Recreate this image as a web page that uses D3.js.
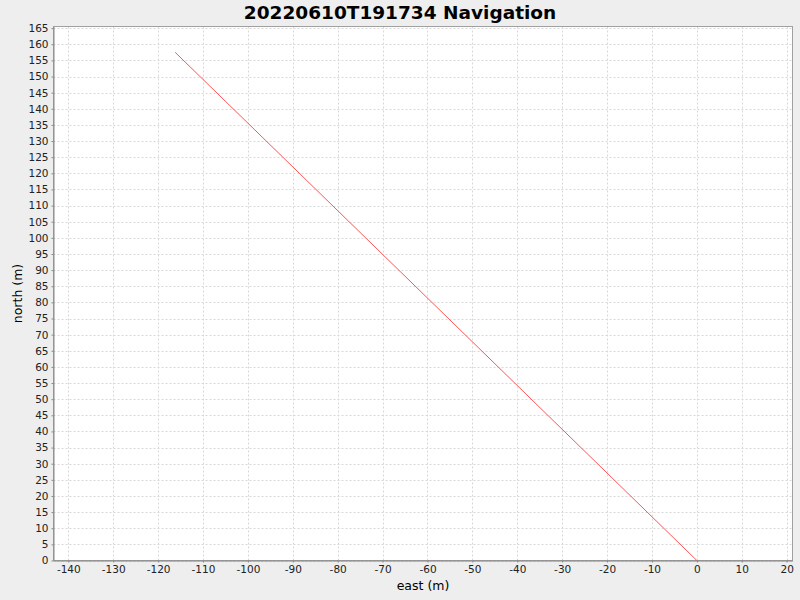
<!DOCTYPE html>
<html><head><meta charset="utf-8">
<script src="https://cdn.jsdelivr.net/npm/d3@7"></script>
<style>body{margin:0;background:#eeeeee;} svg{display:block;}</style>
</head><body>
<svg id="c" width="800" height="600"></svg>
<script>
const titleText = "20220610T191734 Navigation";
const xLabel = "east (m)";
const yLabel = "north (m)";
const eastValues = [0, -116.2];
const northValues = [0, 157.5];
const xTicks = d3.range(-140, 21, 10);
const yTicks = d3.range(0, 166, 5);
const xDomain = [-143.3, 21.3];
const yDomain = [0, 165.5];

const svg = d3.select("#c");
const L = 53.5, T = 26.5, R = 792.5, B = 560.5;
svg.append("rect").attr("width",800).attr("height",600).attr("fill","#eeeeee");
svg.append("rect").attr("x",L).attr("y",T).attr("width",R-L).attr("height",B-T).attr("fill","#ffffff");

const x = d3.scaleLinear().domain(xDomain).range([L, R]);
const y = d3.scaleLinear().domain(yDomain).range([B, T]);

const grid = svg.append("g").attr("stroke","#d8d8d8").attr("stroke-width",1).attr("stroke-dasharray","2,2");
xTicks.forEach(t => grid.append("line").attr("x1",Math.round(x(t))+0.5).attr("x2",Math.round(x(t))+0.5).attr("y1",T).attr("y2",B));
yTicks.forEach(t => grid.append("line").attr("y1",Math.round(y(t))+0.5).attr("y2",Math.round(y(t))+0.5).attr("x1",L).attr("x2",R));

svg.append("rect").attr("x",L).attr("y",T).attr("width",R-L).attr("height",B-T).attr("fill","none").attr("stroke","#a0a0a0").attr("stroke-width",1);

const line = d3.line().x(d => x(d[0])).y(d => y(d[1]));
const pts = eastValues.map((e,i) => [e, northValues[i]]);
svg.append("path").datum(pts).attr("d", line).attr("fill","none").attr("stroke","#ff5555").attr("stroke-width",1);

const fmt = d => String(d);
const xAxis = d3.axisBottom(x).tickValues(xTicks).tickFormat(fmt).tickSize(2).tickSizeOuter(0).tickPadding(3);
const gx = svg.append("g").attr("transform",`translate(0,${B})`).call(xAxis);
const yAxis = d3.axisLeft(y).tickValues(yTicks).tickFormat(fmt).tickSize(2).tickSizeOuter(0).tickPadding(3);
const gy = svg.append("g").attr("transform",`translate(${L},0)`).call(yAxis);
[gx, gy].forEach(g => {
  g.selectAll("text").attr("font-family","DejaVu Sans").attr("font-size","10.5px").attr("fill","#222");
  g.selectAll("line").attr("stroke","#888");
  g.select(".domain").attr("stroke","#888");
});

svg.append("text").attr("x",400).attr("y",19).attr("text-anchor","middle")
  .attr("font-family","DejaVu Sans").attr("font-weight","bold").attr("font-size","18.5px").attr("fill","#000").text(titleText);
svg.append("text").attr("x",(L+R)/2).attr("y",590).attr("text-anchor","middle")
  .attr("font-family","DejaVu Sans").attr("font-size","12.5px").attr("fill","#000").text(xLabel);
svg.append("text").attr("transform",`translate(22,${(T+B)/2}) rotate(-90)`).attr("text-anchor","middle")
  .attr("font-family","DejaVu Sans").attr("font-size","12.5px").attr("fill","#000").text(yLabel);
</script>
</body></html>
